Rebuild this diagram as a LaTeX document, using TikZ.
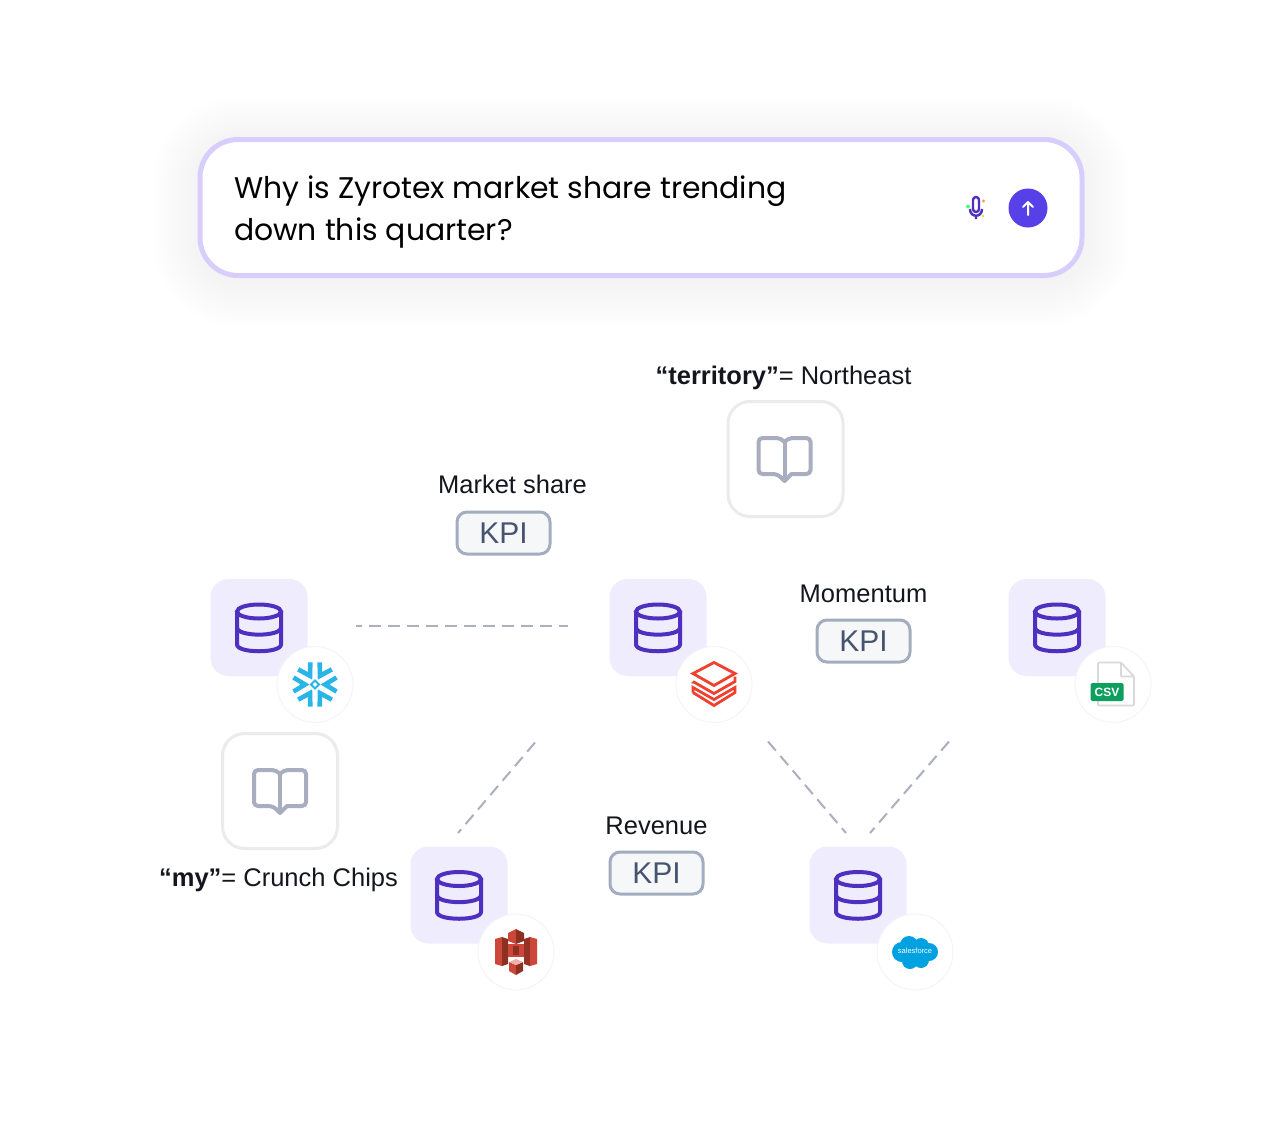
\documentclass[tikz,border=0pt]{standalone}
\usepackage{fontspec}
\setmainfont{Liberation Sans}
\newfontfamily\promptfont{Poppins}
\usepackage{xcolor}
\usetikzlibrary{positioning, calc}
\definecolor{accent}{RGB}{79, 47, 192}
\definecolor{sendblue}{RGB}{88, 64, 232}
\definecolor{tilefill}{RGB}{239, 236, 253}
\definecolor{promptline}{RGB}{216, 206, 253}
\definecolor{bookline}{RGB}{168, 173, 192}
\definecolor{kpiline}{RGB}{163, 173, 191}
\definecolor{kpitext}{RGB}{71, 84, 111}
\definecolor{inktext}{RGB}{20, 22, 30}
\definecolor{linkgray}{RGB}{172, 175, 189}
\definecolor{snowblue}{RGB}{41, 181, 232}
\definecolor{brickred}{RGB}{240, 64, 47}
\definecolor{csvgreen}{RGB}{14, 159, 94}
\definecolor{forceblue}{RGB}{0, 161, 224}
\definecolor{bucketred}{RGB}{205, 70, 58}
\definecolor{bucketdark}{RGB}{140, 48, 35}
\definecolor{bucketpale}{RGB}{242, 176, 168}
\tikzset{
  dbicon/.pic={
    \draw[accent, line width=4pt] (0,-16) ellipse (22pt and 7pt);
    \draw[accent, line width=4pt, line join=round]
      (-22,-16) -- (-22,17) .. controls (-22,26) and (22,26) .. (22,17) -- (22,-16);
    \draw[accent, line width=4pt] (-22,0) .. controls (-22,9.5) and (22,9.5) .. (22,0);
  },
  bookicon/.pic={
    \draw[bookline, line width=4pt, line join=round, rounded corners=4pt]
      (0,-17) -- (-4,-21) -- (-26,-21) -- (-26,15) -- (-7,15) [sharp corners] -- (0,22)
      -- (7,15) [rounded corners=4pt] -- (26,15) -- (26,-21) -- (4,-21) -- (0,-17);
    \draw[bookline, line width=4pt] (0,-17) -- (0,21);
  },
}
\begin{document}
\begin{tikzpicture}[
  x=1pt, y=-1pt,
  every node/.style={font=\fontsize{25.5}{30}\selectfont, text=inktext},
  tile/.style={fill=tilefill, rounded corners=18pt, minimum size=97pt, inner sep=0pt},
  badge/.style={circle, fill=white, draw=black!4, line width=1pt, minimum size=76pt, inner sep=0pt},
  bookbox/.style={draw=black!8, fill=white, line width=3pt, rounded corners=22pt, minimum size=115pt, inner sep=0pt},
  kpi/.style={
    draw=kpiline, fill=kpiline!10, line width=3pt, rounded corners=10pt,
    minimum width=93pt, minimum height=42pt, inner sep=0pt,
    text=kpitext, font=\fontsize{30}{36}\selectfont,
  },
  link/.style={draw=linkgray, line width=2pt, dash pattern=on 12pt off 7pt},
]
  \useasboundingbox[fill=white] (0,0) rectangle (1280,1120);

  % question box
  \foreach \g in {4,8,...,44}
    \fill[accent, opacity=.005, rounded corners=40pt+\g pt]
      (198-\g,141-\g) rectangle (1085+\g,282+\g);
  \node[draw=promptline, fill=white, line width=5pt, rounded corners=38pt,
    minimum width=882pt, minimum height=136pt] (promptbox) at (641,207.5) {};
  \node[anchor=west, align=left, inner sep=0pt, text=black, font=\promptfont\fontsize{29.85}{42}\selectfont]
    (prompt) at (234,212) {Why is Zyrotex market share trending\\down this quarter?};
  \node[circle, fill=sendblue, minimum size=39pt, inner sep=0pt] (send) at (1028,208) {};
  \draw[white, line width=2pt, line cap=round, line join=round]
    (1028,215) -- (1028,202) (1023,207) -- (1028,202) -- (1033,207);
  \node[minimum size=26pt, inner sep=0pt] (mic) at (976,208) {};
  \draw[accent, line width=2.4pt, rounded corners=3pt] (973,197) rectangle (979,212);
  \draw[accent, line width=2.4pt] (970,209) .. controls (970,218) and (982,218) .. (982,209)
    (976,215) -- (976,219);
  \fill[green!70!cyan!70] (968,206.5) circle (2pt);
  \fill[orange!80] (983.5,201) circle (1.6pt);
  \fill[yellow!80!orange] (983,216) circle (1.3pt);

  % data sources
  \node[tile] (snowtile)  at (259,627.5) {};
  \node[tile] (bricktile) at (658,627.5) {};
  \node[tile] (csvtile)   at (1057,627.5) {};
  \node[tile] (stile)     at (459,895) {};
  \node[tile] (forcetile) at (858,895) {};
  \foreach \t in {snowtile, bricktile, csvtile, stile, forcetile}
    \pic at (\t) {dbicon};

  \node[badge] (snowbadge)  at ($(snowtile)+(56,57)$) {};
  \node[badge] (brickbadge) at ($(bricktile)+(56,57)$) {};
  \node[badge] (csvbadge)   at ($(csvtile)+(56,57)$) {};
  \node[badge] (sbadge)     at ($(stile)+(57,57)$) {};
  \node[badge] (forcebadge) at ($(forcetile)+(57,57)$) {};

  % snowflake
  \begin{scope}[shift={(snowbadge)}]
    \foreach \a in {0,60,...,300} {
      \draw[snowblue, line width=4.6pt, line join=miter, rotate=\a]
        (21.5,-7) -- (10,0) -- (21.5,7);
    }
    \draw[snowblue, line width=2pt] (-4,0) -- (0,-4) -- (4,0) -- (0,4) -- cycle;
  \end{scope}

  % stacked layers
  \begin{scope}[shift={(brickbadge)}]
    \draw[brickred, line width=2.8pt, line join=miter]
      (0,-22) -- (21,-11) -- (0,1) -- (-21,-11) -- cycle
      (-21,-3) -- (0,9) -- (21,-3) -- (21,-8)
      (-21,-3) -- (-21,-1)
      (-21,8) -- (0,21) -- (21,8) -- (21,3) -- (0,15) -- (-21,3) -- (-21,8);
  \end{scope}

  % csv file
  \begin{scope}[shift={(csvbadge)}]
    \draw[black!15, line width=1.8pt, line join=round, rounded corners=1pt]
      (-15,-22) -- (8,-22) -- (21,-8) -- (21,21) -- (-15,21) -- cycle
      (8,-22) -- (8,-8) -- (21,-8);
  \end{scope}
  \node[fill=csvgreen, rounded corners=1.5pt, minimum width=33pt, minimum height=18pt,
    inner sep=0pt, text=white, font=\fontsize{12}{12}\selectfont\bfseries]
    (csvtag) at ($(csvbadge)+(-6,7.5)$) {CSV};

  % bucket
  \begin{scope}[shift={(sbadge)}]
    \fill[bucketred] (-21,-13) -- (-14,-15) -- (-14,14) -- (-21,12) -- cycle;
    \fill[bucketdark] (-14,-15) -- (-8,-13) -- (-8,12) -- (-14,14) -- cycle;
    \fill[bucketdark!90!bucketred] (8,-13) -- (14,-15) -- (14,14) -- (8,12) -- cycle;
    \fill[bucketred] (14,-15) -- (21,-13) -- (21,12) -- (14,14) -- cycle;
    \fill[bucketred] (-8,-19) -- (0,-23) -- (0,-8) -- (-8,-11) -- cycle;
    \fill[bucketdark] (8,-19) -- (0,-23) -- (0,-8) -- (8,-11) -- cycle;
    \fill[bucketred] (-8,-8) rectangle (8,5);
    \fill[bucketdark] (-3,-6) rectangle (3,3);
    \fill[bucketred] (-7,10) -- (0,13) -- (0,23) -- (-7,19) -- cycle;
    \fill[bucketdark] (7,10) -- (0,13) -- (0,23) -- (7,19) -- cycle;
    \fill[bucketpale] (-7,10) -- (0,7) -- (7,10) -- (0,13) -- cycle;
  \end{scope}

  % cloud
  \begin{scope}[shift={(forcebadge)}]
    \fill[forceblue] (-13,0) circle (10pt) (-6,-7) circle (9pt) (6,-6) circle (8pt)
      (14,0) circle (9pt) (6,8) circle (8pt) (-5,9) circle (8pt) (0,0) circle (10pt);
  \end{scope}
  \node[inner sep=0pt, text=white, font=\fontsize{7.5}{8}\selectfont] (forcelabel)
    at ($(forcebadge)+(0,-1)$) {salesforce};

  % books
  \node[bookbox] (bookA) at (785.5,459) {};
  \node[bookbox] (bookB) at (280,791) {};
  \pic at ($(bookA)+(-1,0)$) {bookicon};
  \pic at (bookB) {bookicon};
  \node[above=7pt of bookA, xshift=-2pt] (territory) {\textbf{“territory”}= Northeast};
  \node[below=14pt of bookB, xshift=-1.5pt] (myname) {\textbf{“my”}= Crunch Chips};

  % measures
  \node[kpi] (kpiA) at (503.5,533) {KPI};
  \node[kpi] (kpiB) at (863.5,641) {KPI};
  \node[kpi] (kpiC) at (656.5,873) {KPI};
  \node[above=13pt of kpiA, xshift=9pt] (share) {Market share};
  \node[above=12pt of kpiB] (momentum) {Momentum};
  \node[above=12pt of kpiC] (revenue) {Revenue};

  % dashed joins
  \coordinate (joinA) at ($(bricktile)+(-123,115)$);
  \coordinate (joinB) at ($(stile)+(-1,-62)$);
  \coordinate (joinC) at ($(bricktile)+(110,114)$);
  \coordinate (joinD) at ($(forcetile)+(-12,-62)$);
  \coordinate (joinE) at ($(csvtile)+(-108,114)$);
  \coordinate (joinF) at ($(forcetile)+(12,-62)$);
  \draw[link, dash phase=6pt, shorten <=97pt, shorten >=90pt]
    ([yshift=1.5pt]snowtile.center) -- ([yshift=1.5pt]bricktile.center);
  \draw[link] (joinA) -- (joinB);
  \draw[link] (joinC) -- (joinD);
  \draw[link] (joinE) -- (joinF);
\end{tikzpicture}
\end{document}
